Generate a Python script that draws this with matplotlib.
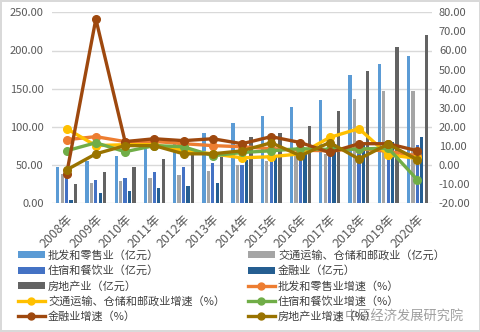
import numpy as np
import matplotlib
matplotlib.use("Agg")
import matplotlib.pyplot as plt
from matplotlib.patches import Patch
from matplotlib.lines import Line2D

plt.rcParams['font.family'] = ['Noto Sans CJK SC', 'DejaVu Sans']

years = ["2008年", "2009年", "2010年", "2011年", "2012年", "2013年", "2014年",
         "2015年", "2016年", "2017年", "2018年", "2019年", "2020年"]

# 亿元 (left axis)
pifa = [47.8, 54.8, 62.2, 71.4, 80.0, 92.5, 105.7, 114.9, 125.4, 134.6, 167.5, 181.9, 192.5]
jiaotong = [38.5, 26.7, 29.8, 33.5, 37.2, 42.5, 50.4, 55.7, 62.2, 64.9, 136.8, 146.4, 146.4]
zhusu = [36.0, 30.7, 33.3, 41.4, 47.8, 53.0, 50.4, 56.0, 60.0, 70.0, 73.0, 70.0, 76.7]
jinrong = [4.7, 13.5, 16.2, 20.0, 22.8, 26.7, 57.0, 60.0, 65.0, 78.0, 76.0, 80.7, 87.2]
fangdichan = [25.4, 41.6, 47.8, 58.3, 63.5, 61.0, 86.3, 92.5, 101.7, 121.4, 172.8, 204.3, 220.1]

# 增速 % (right axis)
pifa_g = [13.3, 14.9, 12.3, 12.4, 11.2, 10.2, 9.6, 8.6, 7.8, 7.5, 8.6, 7.2, 4.9]
jiaotong_g = [19.1, 10.2, 10.7, 10.7, 7.7, 5.9, 3.8, 4.4, 5.9, 14.5, 19.1, 5.4, 3.5]
zhusu_g = [7.5, 11.7, 7.0, 10.2, 9.6, 4.9, 6.6, 7.5, 8.6, 8.2, 8.4, 8.9, -7.7]
jinrong_g = [-4.6, 76.5, 12.3, 13.8, 12.8, 13.8, 11.2, 14.9, 11.8, 6.6, 11.2, 11.2, 7.5]
fangdichan_g = [-2.5, 5.9, 10.2, 10.2, 5.9, 5.9, 7.5, 11.7, 4.9, 11.8, 3.2, 11.0, 2.8]

bar_series = [
    (pifa, "批发和零售业（亿元）", "#5B9BD5"),
    (jiaotong, "交通运输、仓储和邮政业（亿元）", "#A5A5A5"),
    (zhusu, "住宿和餐饮业（亿元）", "#4472C4"),
    (jinrong, "金融业（亿元）", "#255E91"),
    (fangdichan, "房地产业（亿元）", "#636363"),
]
line_series = [
    (pifa_g, "批发和零售业增速（%）", "#ED7D31"),
    (jiaotong_g, "交通运输、仓储和邮政业增速（%）", "#FFC000"),
    (zhusu_g, "住宿和餐饮业增速（%）", "#70AD47"),
    (jinrong_g, "金融业增速（%）", "#9E480E"),
    (fangdichan_g, "房地产业增速（%）", "#997300"),
]

fig = plt.figure(figsize=(4.81, 3.32), dpi=100)
fig.patch.set_edgecolor("#D9D9D9")
fig.patch.set_linewidth(1.5)
ax = fig.add_axes([52 / 481, 1 - 203.3 / 332, 380 / 481, 191 / 332])
ax2 = ax.twinx()

x = np.arange(len(years))
step = 0.152
width = 0.112
for i, (vals, name, col) in enumerate(bar_series):
    ax.bar(x + (i - 2) * step, vals, width, color=col, label=name)

for vals, name, col in line_series:
    ax2.plot(x, vals, color=col, lw=2.4, marker="o", ms=5.5, label=name)

ax.set_xlim(-0.5, len(years) - 0.5)
ax.set_ylim(0, 250)
ax.set_yticks(np.arange(0, 251, 50))
ax.set_yticklabels(["%.2f" % v for v in np.arange(0, 251, 50)])
ax2.set_ylim(-20, 80)
ax2.set_yticks(np.arange(-20, 81, 10))
ax2.set_yticklabels(["%.2f" % v for v in np.arange(-20, 81, 10)])

ax.set_xticks(x)
ax.set_xticklabels(years, rotation=45, ha="right", rotation_mode="anchor")

ax.set_axisbelow(True)
ax.grid(axis="y", color="#D9D9D9", lw=1)
for a in (ax, ax2):
    for s in a.spines.values():
        s.set_visible(False)
    a.tick_params(length=0, labelsize=8, colors="#595959")
ax.tick_params(axis="y", pad=6)
ax.tick_params(axis="x", pad=7, labelsize=9)
ax2.tick_params(axis="y", pad=5)

# legend: two columns, built as two legends
handles = [Patch(facecolor=c, label=n) for _, n, c in bar_series] + \
          [Line2D([], [], color=c, lw=2.4, marker="o", ms=5, label=n) for _, n, c in line_series]
col1 = [handles[i] for i in (0, 2, 4, 6, 8)]
col2 = [handles[i] for i in (1, 3, 5, 7, 9)]
leg_kw = dict(loc="upper left", frameon=False, fontsize=8, handlelength=2.4,
              handleheight=0.6, handletextpad=0.3, labelspacing=0.42,
              borderpad=0, borderaxespad=0, labelcolor="#404040")
fig.legend(handles=col1, bbox_to_anchor=(18 / 481, 1 - 250 / 332), **leg_kw)
fig.legend(handles=col2, bbox_to_anchor=(248 / 481, 1 - 250 / 332), **leg_kw)

# watermark
fig.text(345 / 481, 1 - 316 / 332, "中原经济发展研究院", fontsize=9.5,
         color="#7F7F7F", alpha=0.75, va="center", ha="left")
fig.text(333 / 481, 1 - 316 / 332, "◎", fontsize=8, color="#9F9F9F",
         alpha=0.7, va="center", ha="left", family=["DejaVu Sans"])

fig.savefig("out.png", dpi=100)
